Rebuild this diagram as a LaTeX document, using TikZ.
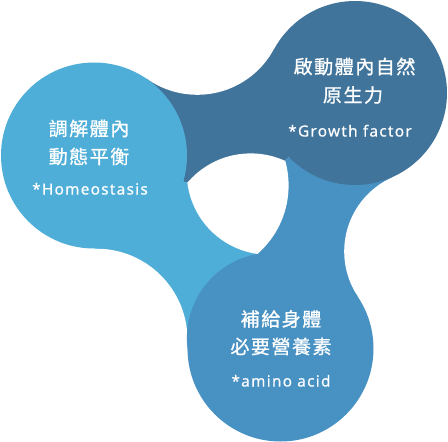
\documentclass[tikz,border=0pt]{standalone}
\usepackage{fontspec}
\newfontfamily\cjkfont{Noto Sans CJK TC}[LetterSpace=8,FakeBold=0.9]
\newfontfamily\latfont{Noto Sans}[LetterSpace=8.5,FakeBold=0.5]
\definecolor{lightb}{RGB}{78,174,216}
\definecolor{darkb}{RGB}{65,116,155}
\definecolor{midb}{RGB}{72,145,195}
\tikzset{
 cjk/.style={text=white, font=\cjkfont\fontsize{19}{19}\selectfont, inner sep=0pt},
 lat/.style={text=white, font=\latfont\fontsize{15.3}{15.3}\selectfont, inner sep=0pt, anchor=base},
 gap/.style={fill=white},
}
\begin{document}
\begin{tikzpicture}[x=1pt,y=-1pt]
\useasboundingbox (0,0) rectangle (448,442);
\fill[white] (0,0) rectangle (448,442);
% tails (bands)
\fill[darkb] (94,155.5) -- (147,79) -- (274.5,49) -- (355,93) -- (285,160.7) -- (187.3,182.7) -- cycle;
\fill[gap] (197.3,7.7) circle[radius=87.1pt];
\fill[lightb] (94,155.5) -- (187.3,182.7) -- (257.3,254) -- (280.5,348.5) -- (188,344) -- (95.2,249) -- cycle;
\fill[gap] (96.4,339.8) circle[radius=91.1pt];
\fill[midb] (280.5,348.5) -- (257.3,254) -- (285,160.7) -- (355,93) -- (392.6,176.7) -- (357.3,297) -- cycle;
\fill[gap] (425.3,251.4) circle[radius=81.1pt];
% main discs
\fill[lightb] (94,155.5) circle[radius=93pt];
\fill[midb] (280.5,348.5) circle[radius=93pt];
\fill[midb] (272.3,338.1) circle[radius=85.4pt];
\fill[darkb] (355,93) circle[radius=92pt];
% central hole
\begin{scope}
\clip (250.7,236.4) circle[radius=83pt];
\clip (197.6,185.4) circle[radius=91pt];
\fill[white] (268.8,172.7) circle[radius=82pt];
\end{scope}
% texts
\node[cjk] (l1) at (89,128.5) {調解體內};
\node[cjk] (l2) at (89,156.5) {動態平衡};
\node[lat] (l3) at (90,194.5) {*Homeostasis};
\node[cjk] (t1) at (354.5,66.5) {啟動體內自然};
\node[cjk] (t2) at (353,95) {原生力};
\node[lat] (t3) at (350,136.5) {*Growth factor};
\node[cjk] (b1) at (281,319) {補給身體};
\node[cjk] (b2) at (281,346.5) {必要營養素};
\node[lat] (b3) at (281,386.5) {*amino acid};
\end{tikzpicture}
\end{document}
